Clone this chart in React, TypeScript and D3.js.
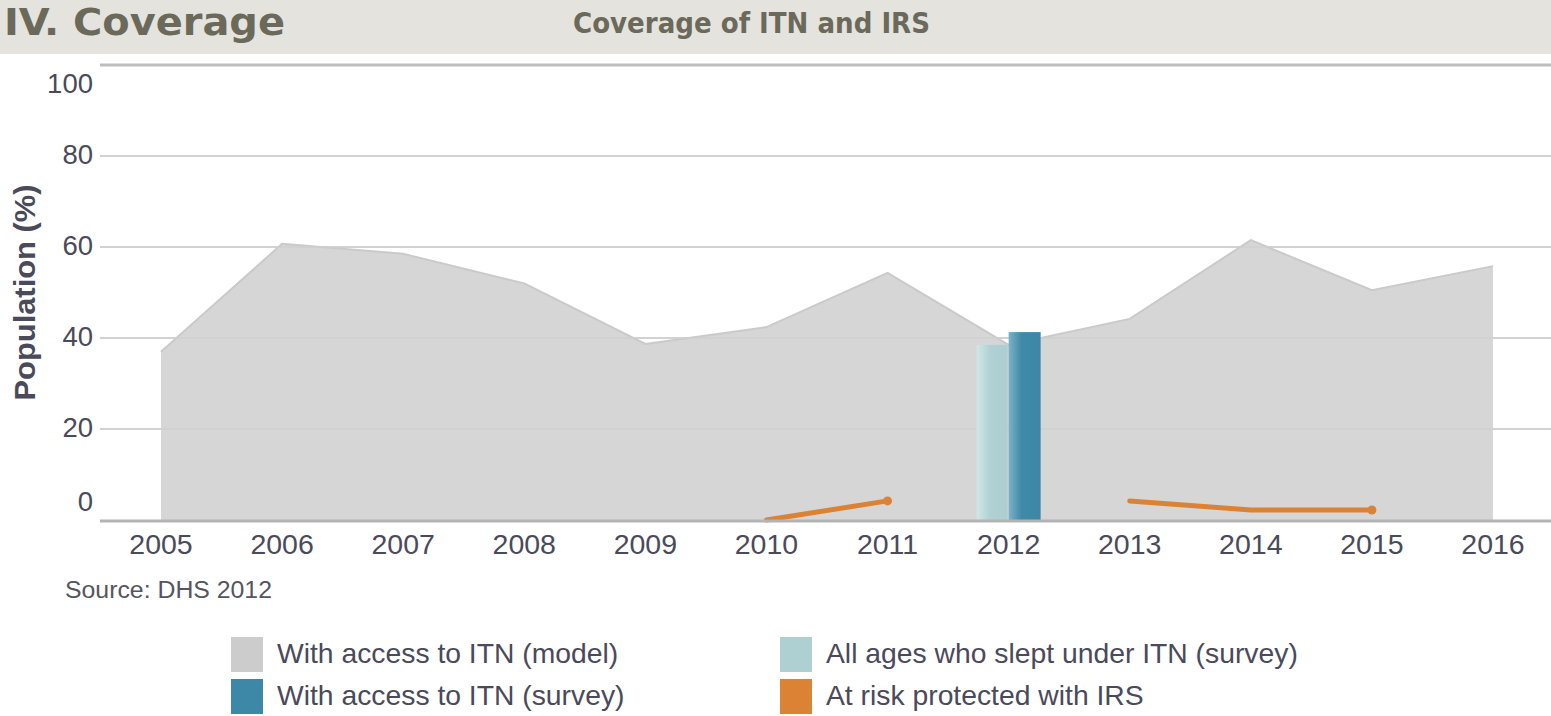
import React from 'react';
import * as d3 from 'd3';

// chart data
const years = [2005, 2006, 2007, 2008, 2009, 2010, 2011, 2012, 2013, 2014, 2015, 2016];
const itnModel = [37, 60.7, 58.5, 52, 38.7, 42.4, 54.3, 38.5, 44.2, 61.5, 50.5, 55.8];
const surveyYears = [2012];
const sleptUnderItn = [38.5];
const accessItnSurvey = [41.3];
const irsCoverage: (number | null)[] = [null, null, null, null, null, 0, 4.2, null, 4.2, 2.2, 2.2, null];
const irsMarked = [2011, 2015];
const yTicks = [0, 20, 40, 60, 80, 100];

const legendItems = [
  { label: 'With access to ITN (model)', color: '#cccccc' },
  { label: 'All ages who slept under ITN (survey)', color: '#afd0d3' },
  { label: 'With access to ITN (survey)', color: '#3d88a7' },
  { label: 'At risk protected with IRS', color: '#dc8235' },
];

const W = 1551;
const H = 716;
const plotLeft = 100;
const plotTop = 65;
const plotBottom = 520;
const textColor = '#4a4a5a';
const font = 'Liberation Sans, Arial, sans-serif';
const narrow = 'Liberation Sans Narrow, DejaVu Sans Condensed, sans-serif';

const App = () => {
  const x = d3.scalePoint<number>().domain(years).range([161, 1493]);
  const y = d3.scaleLinear().domain([0, 100]).range([plotBottom, plotTop]);

  const modelData = years.map((yr, i) => ({ yr, v: itnModel[i] }));
  const area = d3.area<{ yr: number; v: number }>()
    .x(d => x(d.yr)!)
    .y0(y(0))
    .y1(d => y(d.v));
  const topLine = d3.line<{ yr: number; v: number }>()
    .x(d => x(d.yr)!)
    .y(d => y(d.v));

  const irsData = years.map((yr, i) => ({ yr, v: irsCoverage[i] }));
  const irsLine = d3.line<{ yr: number; v: number | null }>()
    .defined(d => d.v !== null)
    .x(d => x(d.yr)!)
    .y(d => y(d.v as number));

  const barW = 31;

  // tick labels at the ends are pulled inside the plot
  const tickLabelY = (v: number) => {
    if (v === 100) return y(v) + 21;
    if (v === 0) return y(v) - 16;
    return y(v) + 1;
  };

  const titleY = (plotTop + plotBottom) / 2;

  return (
    <div style={{ position: 'fixed', left: 0, top: 0 }}>
      <svg width={W} height={H} style={{ display: 'block', background: '#fff' }} fontFamily={font}>
        <defs>
          <linearGradient id="gLight" x1="0" x2="1" y1="0" y2="0">
            <stop offset="0" stopColor="#d2e6e8" />
            <stop offset="0.45" stopColor="#b0d0d3" />
            <stop offset="1" stopColor="#adcfd2" />
          </linearGradient>
          <linearGradient id="gDark" x1="0" x2="1" y1="0" y2="0">
            <stop offset="0" stopColor="#7db2c6" />
            <stop offset="0.4" stopColor="#3f8aa9" />
            <stop offset="1" stopColor="#3c87a6" />
          </linearGradient>
        </defs>

        {/* Header band */}
        <rect x={0} y={0} width={W} height={54} fill="#e4e3de" />
        <text x={4} y={35} fontSize={37} fontWeight="bold" fill="#6b695a"
          fontFamily={narrow} textLength={281} lengthAdjust="spacingAndGlyphs">IV. Coverage</text>
        <text x={573} y={33} fontSize={29} fontWeight="bold" fill="#6b695a"
          fontFamily={narrow} textLength={357} lengthAdjust="spacingAndGlyphs">Coverage of ITN and IRS</text>

        {/* Grid lines */}
        {yTicks.filter(t => t > 0).map(t => (
          <line key={t} x1={plotLeft} x2={W} y1={y(t)} y2={y(t)}
            stroke={t === 100 ? '#bdbdbd' : '#d9d9d9'} strokeWidth={t === 100 ? 3 : 2} />
        ))}

        {/* Area: with access to ITN (model) */}
        <path d={area(modelData)!} fill="#d6d6d6" />
        <path d={topLine(modelData)!} fill="none" stroke="#cacaca" strokeWidth={2} />

        {/* Grid lines show faintly through the area */}
        {yTicks.filter(t => t > 0 && t < 100).map(t => (
          <line key={'o' + t} x1={plotLeft} x2={W} y1={y(t)} y2={y(t)}
            stroke="#cfcfcf" strokeWidth={2} opacity={0.6} />
        ))}

        {/* Survey bars */}
        {surveyYears.map((yr, i) => (
          <g key={yr}>
            <rect x={x(yr)! - barW - 1} y={y(sleptUnderItn[i])} width={barW}
              height={y(0) - y(sleptUnderItn[i])} fill="url(#gLight)" />
            <rect x={x(yr)!} y={y(accessItnSurvey[i])} width={barW + 1}
              height={y(0) - y(accessItnSurvey[i])} fill="url(#gDark)" />
          </g>
        ))}

        {/* IRS line */}
        <path d={irsLine(irsData)!} fill="none" stroke="#dc8235" strokeWidth={5} strokeLinecap="round" />
        {irsData.filter(d => irsMarked.includes(d.yr)).map(d => (
          <circle key={d.yr} cx={x(d.yr)} cy={y(d.v as number)} r={4.5} fill="#dc8235" />
        ))}

        {/* Baseline */}
        <line x1={plotLeft} x2={W} y1={y(0) + 1} y2={y(0) + 1} stroke="#b4b4b4" strokeWidth={3} />

        {/* Y axis labels */}
        {yTicks.map(t => (
          <text key={t} x={93} y={tickLabelY(t)} fontSize={27.5} fill={textColor}
            textAnchor="end" dominantBaseline="middle">{t}</text>
        ))}
        <text transform={`translate(35,${titleY}) rotate(-90)`}
          fontSize={30} fontWeight="bold" fill={textColor} textAnchor="middle"
          textLength={216} lengthAdjust="spacingAndGlyphs">Population (%)</text>

        {/* X axis labels */}
        {years.map(yr => (
          <text key={yr} x={x(yr)} y={546} fontSize={28.5} fill={textColor}
            textAnchor="middle" dominantBaseline="middle">{yr}</text>
        ))}

        {/* Source */}
        <text x={65} y={598} fontSize={23.5} fill="#555560"
          textLength={207} lengthAdjust="spacingAndGlyphs">Source: DHS 2012</text>

        {/* Legend */}
        {legendItems.map((item, i) => {
          const col = i % 2;
          const row = Math.floor(i / 2);
          const lx = col === 0 ? 231 : 780;
          const ly = 637 + row * 42;
          return (
            <g key={item.label}>
              <rect x={lx} y={ly} width={32} height={35} fill={item.color} />
              <text x={lx + 46} y={ly + 19} fontSize={28.3} fill={textColor}
                dominantBaseline="middle">{item.label}</text>
            </g>
          );
        })}
      </svg>
    </div>
  );
};

export default App;
